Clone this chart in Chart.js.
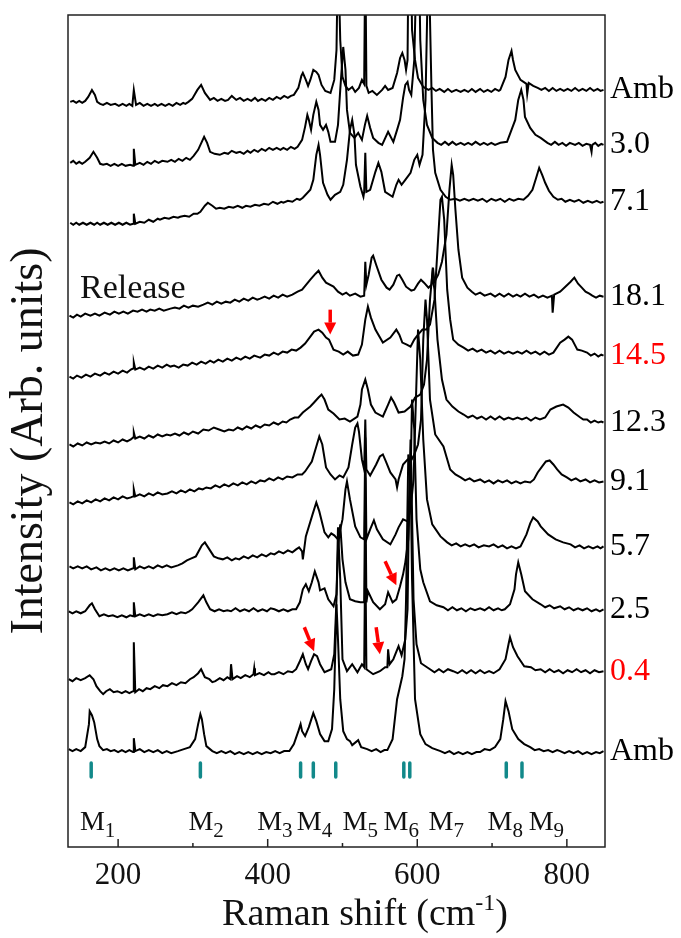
<!DOCTYPE html>
<html>
<head>
<meta charset="utf-8">
<script src="https://cdn.jsdelivr.net/npm/chart.js@4.4.1/dist/chart.umd.min.js"></script>
<style>
  html, body { margin: 0; padding: 0; background: #fff; }
  #wrap { width: 681px; height: 938px; }
</style>
</head>
<body>
<div id="wrap"><canvas id="myChart"></canvas></div>
<script>
// Raman spectra, top to bottom. Each point: [Raman shift (cm-1), stacked intensity (arb.)]
var sAmbRel = [[136,746],[140,747],[144,745],[148,747],[152,745],[156,747],[160,751],[165,758],[169,753],[172,746],[176,744],[180,743],[185,745],[190,743],[196,744],[201,742],[206,744],[211,742],[215,744],[219,742],[221,758],[224,743],[229,745],[234,742],[239,744],[244,742],[249,744],[253,742],[258,744],[263,742],[268,744],[273,742],[278,745],[283,743],[287,745],[290,744],[294,746],[299,749],[306,758],[311,763],[316,755],[323,748],[328,750],[333,747],[338,749],[343,747],[347,748],[352,752],[358,748],[363,750],[368,747],[373,749],[378,747],[383,750],[387,747],[392,749],[397,747],[402,750],[407,748],[412,751],[417,749],[422,752],[427,750],[431,752],[435,753],[441,760],[445,772],[447,775],[451,768],[454,762],[457,768],[461,778],[465,776],[468,773],[472,763],[477,757],[484,755],[489,768],[492,798],[494,900],[497,808],[500,771],[504,762],[508,758],[513,761],[517,756],[522,760],[526,768],[529,764],[530.5,900],[532,762],[535,755],[540,757],[546,753],[553,758],[557,762],[561,758],[567,760],[573,775],[577,790],[580,795],[583,788],[585,778],[587,788],[589.5,1000],[593,818],[597,788],[601,770],[608,761],[615,758],[620,760],[625,757],[630,759],[636,756],[641,759],[646,756],[652,758],[658,756],[663,758],[668,756],[673,759],[678,756],[684,759],[689,756],[694,758],[699,756],[704,759],[709,757],[711,758],[718,771],[722,788],[726,797],[728,788],[731,778],[738,768],[746,764],[747,754],[749,765],[755,762],[761,760],[766,758],[771,760],[776,757],[781,760],[786,757],[791,759],[796,757],[801,759],[806,757],[811,760],[816,757],[821,759],[826,757],[831,760],[836,757],[841,759],[845,757],[849,758]];
var s3_0 = [[136,685],[140,687],[144,684],[148,686],[152,684],[156,686],[162,690],[167,696],[172,690],[176,684],[180,683],[185,684],[190,682],[195,684],[200,682],[205,684],[210,682],[216,683],[220,682],[221,699],[223,683],[229,685],[234,683],[239,686],[244,684],[249,687],[254,685],[259,687],[266,686],[271,688],[276,686],[281,689],[286,687],[291,690],[296,688],[301,692],[307,698],[315,711],[319,705],[323,696],[329,694],[336,693],[342,695],[347,694],[352,697],[358,695],[363,696],[368,694],[373,697],[377,695],[382,698],[387,696],[392,699],[397,697],[402,700],[407,698],[412,700],[417,698],[421,700],[426,698],[431,701],[436,699],[440,701],[446,708],[450,721],[453,733],[455,728],[458,718],[461,733],[465,746],[468,738],[470,723],[474,718],[478,723],[481,716],[484,706],[490,706],[494,723],[497,758],[501,801],[504,778],[506,738],[510,715],[516,710],[521,715],[526,708],[530,723],[533,732],[537,720],[541,710],[548,705],[553,703],[561,716],[568,706],[573,718],[577,728],[581,750],[584,763],[587,766],[589,758],[592,753],[596,788],[601,950],[604,808],[608,748],[613,723],[620,710],[627,705],[632,703],[637,706],[642,703],[647,706],[652,703],[658,705],[663,703],[668,705],[673,703],[678,706],[684,703],[689,705],[694,703],[699,705],[704,703],[711,705],[720,706],[726,718],[731,728],[735,748],[739,758],[742,748],[744,731],[751,720],[758,713],[765,710],[774,705],[779,703],[784,706],[789,703],[794,705],[799,702],[804,705],[811,703],[816,705],[821,702],[826,704],[831,703],[833,696],[834,703],[838,705],[842,702],[846,704],[849,703]];
var s7_1 = [[136,625],[140,623],[144,625],[148,623],[153,625],[158,623],[163,625],[168,623],[172,625],[176,623],[181,625],[186,623],[191,625],[196,623],[201,625],[206,623],[211,625],[216,623],[220,624],[221,634],[223,624],[229,626],[235,625],[241,628],[247,626],[253,629],[256,628],[262,630],[268,629],[274,631],[280,630],[283,631],[289,632],[295,631],[301,634],[306,634],[310,636],[316,642],[320,645],[326,642],[331,639],[336,640],[342,639],[348,641],[354,640],[360,642],[366,640],[371,642],[377,641],[383,643],[389,642],[395,644],[401,643],[407,646],[413,644],[418,646],[421,645],[427,647],[433,646],[439,649],[443,648],[447,650],[457,658],[461,668],[465,693],[468,703],[470,693],[474,665],[480,653],[484,648],[490,653],[497,656],[501,663],[506,688],[510,718],[513,728],[516,713],[518,683],[524,661],[528,651],[529,656],[530.5,695],[532,656],[537,658],[544,676],[548,685],[552,676],[557,656],[567,651],[572,663],[575,668],[579,663],[584,668],[591,675],[596,688],[600,693],[603,683],[607,693],[611,748],[615,900],[619,758],[621,698],[624,675],[631,658],[638,651],[644,648],[651,649],[657,647],[663,649],[669,647],[675,649],[681,647],[687,649],[693,646],[699,649],[705,647],[711,649],[717,646],[723,649],[729,647],[735,649],[742,648],[748,652],[754,658],[759,670],[763,680],[767,673],[771,665],[776,657],[782,651],[788,648],[793,649],[798,646],[804,648],[810,646],[816,648],[822,645],[828,647],[834,645],[840,647],[845,645],[849,646]];
var s18_1 = [[135,532],[140,530],[145,533],[150,531],[156,534],[163,532],[169,534],[175,532],[182,535],[189,533],[195,536],[201,534],[207,536],[213,534],[220,537],[226,536],[232,538],[238,536],[243,538],[249,537],[255,539],[261,537],[270,539],[276,540],[282,539],[288,542],[294,540],[300,542],[307,541],[314,543],[320,545],[326,543],[332,546],[338,544],[344,546],[350,545],[356,548],[362,546],[368,549],[374,547],[380,550],[386,548],[390,549],[396,551],[402,549],[408,552],[414,550],[420,553],[426,551],[433,553],[440,556],[446,558],[457,568],[464,574],[468,577],[473,570],[478,565],[488,561],[494,556],[500,553],[505,555],[510,552],[517,554],[524,551],[529,552],[530.5,586],[532,563],[535,573],[539,590],[541,592],[545,583],[552,568],[559,560],[563,558],[568,563],[573,572],[576,573],[580,568],[585,561],[592,557],[596,558],[601,564],[605,568],[609,565],[615,560],[619,563],[621,580],[623,566],[628,573],[633,586],[639,613],[643,658],[646,683],[648,673],[651,638],[655,598],[660,570],[667,560],[673,556],[678,553],[684,555],[690,552],[698,554],[704,551],[710,554],[716,551],[722,554],[728,551],[733,553],[738,551],[744,554],[750,551],[756,553],[762,550],[768,552],[774,550],[780,552],[781,535],[783,553],[791,556],[798,561],[805,566],[810,570],[815,564],[820,560],[825,556],[830,554],[834,552],[839,550],[844,552],[849,551]];
var s14_5 = [[135,471],[140,469],[145,472],[151,470],[157,473],[163,471],[169,474],[176,472],[182,475],[188,473],[194,476],[200,474],[206,477],[212,475],[217,478],[220,479],[221,485],[223,478],[229,480],[235,478],[241,481],[247,479],[253,482],[259,480],[265,483],[270,481],[275,482],[281,480],[287,483],[293,482],[299,485],[305,483],[311,486],[317,484],[323,487],[328,485],[334,488],[340,486],[346,489],[352,487],[358,490],[364,488],[370,491],[376,489],[382,492],[390,490],[396,493],[402,492],[408,495],[414,493],[420,496],[426,495],[432,498],[438,497],[444,500],[450,504],[457,511],[462,516],[468,518],[473,515],[478,510],[482,508],[488,498],[495,496],[501,493],[507,496],[514,492],[521,493],[526,503],[530.5,528],[534,541],[538,530],[544,518],[554,505],[564,510],[572,518],[576,513],[580,505],[586,503],[591,501],[596,508],[601,513],[607,518],[612,518],[617,523],[623,548],[627,598],[631,648],[633,651],[636,628],[640,558],[644,528],[648,508],[655,503],[662,500],[668,497],[674,499],[680,496],[686,498],[692,495],[698,497],[704,494],[710,497],[716,494],[722,496],[728,494],[734,496],[740,494],[746,497],[752,494],[758,496],[764,493],[770,496],[776,493],[782,495],[791,505],[797,508],[802,511],[807,508],[814,498],[820,497],[827,495],[832,492],[837,494],[842,491],[846,493],[849,492]];
var s12_3 = [[135,403],[140,401],[146,404],[152,402],[158,405],[164,403],[170,405],[176,404],[182,406],[188,404],[194,407],[200,405],[206,408],[212,406],[217,408],[220,410],[221,415],[223,409],[229,411],[235,409],[241,412],[247,410],[253,413],[259,411],[265,413],[270,412],[276,414],[282,412],[288,415],[294,413],[300,416],[307,414],[314,418],[321,417],[328,420],[335,418],[342,416],[348,418],[354,417],[360,420],[366,418],[372,421],[378,419],[384,422],[390,420],[396,423],[402,422],[408,425],[414,423],[420,426],[425,425],[430,428],[436,430],[441,430],[447,435],[457,441],[462,445],[468,450],[472,453],[476,448],[481,438],[488,434],[496,428],[503,429],[510,426],[520,431],[524,443],[526,458],[530.5,468],[534,458],[538,443],[544,435],[554,431],[561,443],[565,450],[569,445],[575,435],[583,436],[591,441],[597,450],[604,453],[609,463],[613,488],[617,548],[620,573],[623,558],[627,508],[633,468],[639,448],[647,441],[655,436],[662,433],[668,430],[674,432],[680,429],[686,431],[692,428],[698,431],[704,428],[710,431],[716,428],[722,430],[728,428],[734,430],[740,428],[746,430],[752,427],[758,430],[764,428],[771,430],[778,438],[786,441],[795,443],[802,440],[809,435],[818,430],[822,428],[827,428],[832,425],[837,427],[842,425],[846,426],[849,425]];
var s9_1 = [[135,345],[140,343],[146,346],[152,344],[158,347],[164,345],[170,348],[176,346],[182,349],[188,347],[194,350],[200,348],[206,351],[212,349],[217,350],[220,351],[221,358],[223,351],[229,353],[235,351],[241,354],[247,352],[253,355],[259,353],[266,354],[272,356],[278,354],[284,357],[290,355],[296,358],[302,356],[308,359],[313,358],[318,360],[324,359],[330,362],[336,360],[342,363],[348,361],[354,364],[360,362],[366,365],[372,363],[378,366],[384,364],[390,367],[396,366],[402,369],[408,367],[414,370],[420,368],[426,371],[433,370],[440,373],[446,373],[450,376],[459,386],[465,401],[469,411],[473,403],[478,380],[484,373],[490,368],[496,372],[501,370],[508,380],[513,403],[517,420],[520,424],[522,416],[526,388],[529,378],[530.5,428],[532,378],[537,372],[545,383],[550,391],[554,393],[558,386],[564,375],[571,368],[573,360],[575,368],[581,383],[587,388],[591,386],[596,393],[601,403],[605,428],[608,508],[611,548],[613,528],[617,448],[624,413],[635,401],[644,378],[651,373],[658,370],[664,367],[670,369],[676,366],[684,368],[690,365],[696,367],[702,364],[708,367],[714,365],[720,367],[726,364],[732,366],[738,364],[744,366],[751,365],[756,368],[761,375],[767,381],[772,386],[777,387],[782,383],[787,378],[793,373],[800,370],[806,367],[812,369],[818,366],[825,368],[831,365],[837,367],[843,365],[849,366]];
var s5_7 = [[135,281],[140,279],[146,281],[152,279],[158,281],[164,278],[171,280],[177,277],[183,279],[189,277],[195,279],[201,277],[207,279],[213,277],[220,279],[221,290],[223,278],[229,281],[235,279],[241,281],[247,279],[253,282],[259,280],[265,282],[271,280],[280,282],[286,284],[292,287],[298,289],[304,291],[312,302],[316,305],[322,298],[328,291],[334,289],[340,288],[346,290],[352,287],[357,289],[362,288],[368,291],[374,289],[380,292],[386,290],[392,293],[398,291],[404,294],[409,293],[415,296],[421,294],[427,297],[433,295],[438,298],[442,300],[446,296],[447,288],[451,311],[460,333],[465,345],[469,336],[476,315],[481,310],[485,314],[489,312],[494,308],[500,328],[504,358],[506,366],[510,348],[517,321],[524,310],[529,308],[530.5,410],[532,308],[537,318],[542,327],[546,318],[554,308],[564,303],[571,313],[575,320],[581,328],[587,326],[591,338],[595,368],[599,468],[601,518],[604,488],[608,408],[613,348],[620,323],[631,311],[640,305],[646,302],[652,304],[658,301],[664,303],[670,301],[676,303],[682,300],[689,302],[696,301],[702,303],[708,300],[714,302],[720,299],[726,301],[732,299],[738,301],[746,313],[751,324],[755,330],[761,326],[765,321],[775,313],[785,308],[795,305],[805,303],[811,300],[817,302],[823,299],[829,301],[835,299],[841,301],[845,299],[849,301]];
var s2_5 = [[134,236],[139,234],[144,236],[150,234],[156,236],[162,242],[165,244],[169,238],[175,231],[181,233],[187,231],[193,232],[199,230],[205,232],[211,230],[216,232],[220,231],[221,245],[223,231],[229,233],[235,231],[241,233],[247,231],[253,233],[259,232],[266,233],[272,235],[278,233],[284,235],[290,234],[295,236],[299,238],[307,245],[314,252],[318,245],[323,238],[329,236],[335,238],[341,236],[346,237],[351,236],[357,239],[363,236],[369,238],[375,236],[381,239],[387,236],[393,238],[399,236],[404,239],[409,238],[415,236],[421,238],[427,236],[433,238],[438,238],[443,245],[447,258],[451,263],[455,256],[459,265],[463,276],[468,265],[470,257],[476,259],[481,248],[488,241],[492,253],[494,298],[497,323],[500,288],[504,265],[510,248],[517,246],[524,245],[529,245],[530.5,370],[532,245],[534,256],[541,245],[550,238],[557,243],[561,255],[567,245],[572,248],[577,261],[581,273],[584,285],[588,308],[591,368],[593,448],[596,418],[599,328],[604,278],[608,265],[617,246],[626,242],[635,240],[641,237],[647,240],[653,237],[659,239],[665,236],[671,239],[677,237],[684,239],[690,237],[696,240],[702,237],[708,239],[713,237],[717,238],[724,243],[730,258],[732,273],[735,285],[739,273],[744,256],[754,248],[765,243],[771,240],[777,242],[783,239],[791,241],[797,238],[803,240],[809,237],[815,239],[821,237],[827,239],[833,236],[839,238],[844,236],[849,238]];
var s0_4 = [[134,168],[139,166],[144,169],[150,167],[156,169],[162,172],[167,168],[171,161],[176,156],[180,153],[184,156],[189,158],[194,155],[199,156],[205,154],[210,156],[215,154],[220,156],[221,205],[223,155],[228,158],[233,156],[238,159],[243,158],[249,161],[255,159],[260,162],[266,161],[272,164],[278,162],[284,165],[290,164],[296,168],[301,170],[307,174],[311,178],[316,170],[322,168],[326,165],[330,166],[336,169],[341,167],[346,170],[350,168],[351,183],[353,168],[359,171],[364,169],[370,172],[376,170],[381,173],[382,179],[383,172],[389,174],[395,172],[401,175],[405,173],[409,173],[415,175],[421,173],[427,176],[433,175],[438,178],[443,186],[447,193],[451,183],[454,178],[458,186],[462,193],[466,191],[470,183],[476,175],[485,178],[489,193],[492,248],[494,320],[497,268],[500,188],[506,176],[513,183],[520,175],[526,183],[529,180],[530.5,303],[532,178],[541,173],[550,176],[557,180],[560,180],[561,198],[563,183],[568,188],[575,201],[579,192],[584,208],[587,238],[589,348],[591,408],[592,378],[595,248],[599,203],[605,184],[617,178],[623,175],[629,178],[635,175],[641,178],[648,176],[654,174],[660,177],[666,174],[672,177],[678,174],[684,177],[690,174],[696,176],[702,174],[710,178],[718,188],[722,203],[724,210],[728,200],[734,191],[743,181],[752,180],[758,177],[765,178],[771,175],[777,178],[783,175],[789,177],[795,174],[801,177],[807,175],[813,178],[819,175],[825,177],[831,174],[837,177],[843,175],[849,176]];
var sAmb = [[134,98],[139,96],[144,98],[150,96],[156,100],[161,123],[162,136],[165,132],[168,125],[172,108],[175,101],[180,97],[185,98],[190,96],[195,97],[200,95],[205,97],[210,95],[215,97],[220,95],[221,109],[223,96],[229,98],[235,95],[241,97],[247,95],[253,97],[259,94],[265,96],[271,94],[280,96],[288,98],[296,100],[303,108],[307,123],[310,133],[312,128],[315,113],[318,101],[326,96],[332,94],[338,96],[344,94],[350,96],[356,93],[362,95],[368,93],[374,95],[380,93],[386,95],[392,93],[398,95],[404,94],[410,96],[416,94],[422,96],[429,96],[435,103],[441,116],[444,123],[446,116],[450,111],[455,120],[461,134],[465,126],[470,113],[476,106],[481,106],[486,118],[489,158],[492,243],[494,208],[497,148],[501,116],[506,108],[510,106],[513,102],[521,107],[525,100],[533,98],[539,96],[545,98],[551,95],[556,97],[560,97],[567,108],[573,148],[580,171],[583,188],[585,248],[588,393],[591,378],[593,268],[597,148],[604,113],[611,103],[620,99],[631,96],[637,94],[643,96],[649,93],[655,95],[661,93],[667,95],[673,93],[679,95],[684,95],[690,98],[697,97],[704,100],[711,108],[715,128],[718,146],[722,136],[727,118],[735,108],[743,103],[751,100],[757,97],[763,98],[769,96],[775,97],[781,95],[787,97],[791,96],[797,94],[803,96],[809,94],[815,96],[821,93],[827,95],[833,93],[839,95],[844,94],[849,96]];

var spectra = [sAmbRel, s3_0, s7_1, s18_1, s14_5, s12_3, s9_1, s5_7, s2_5, s0_4, sAmb];
var pressures = ['Amb', '3.0', '7.1', '18.1', '14.5', '12.3', '9.1', '5.7', '2.5', '0.4', 'Amb'];
var pressureColors = ['#000', '#000', '#000', '#000', '#ff0000', '#000', '#000', '#000', '#000', '#ff0000', '#000'];

// mode positions (cm-1) and their labels
var modePos = [164, 310, 444, 461, 491, 582, 590, 719, 740];
var modeNames = ['1', '2', '3', '4', '5', '6', '7', '8', '9'];
var modeLabelAt = [149, 294, 386, 439, 500, 555, 615, 694, 749];

var xTicks = [200, 300, 400, 500, 600, 700, 800];

// red arrows: [x1, y1, x2, y2] in data units
var arrows = [[483.6, 538, 483.6, 513], [557, 286, 572, 262], [449, 220, 462, 196], [545, 220, 550, 193]];

var serif = "'Liberation Serif', 'Times New Roman', serif";

function drawArrow(ctx, x1, y1, x2, y2) {
  var ang = Math.atan2(y2 - y1, x2 - x1), head = 12, hw = 6;
  var bx = x2 - head * Math.cos(ang), by = y2 - head * Math.sin(ang);
  ctx.beginPath(); ctx.moveTo(x1, y1); ctx.lineTo(bx, by); ctx.stroke();
  ctx.beginPath(); ctx.moveTo(x2, y2);
  ctx.lineTo(bx + hw * Math.sin(ang), by - hw * Math.cos(ang));
  ctx.lineTo(bx - hw * Math.sin(ang), by + hw * Math.cos(ang));
  ctx.closePath(); ctx.fill();
}

var extras = {
  id: 'extras',
  afterDraw: function(chart) {
    var ctx = chart.ctx, a = chart.chartArea, xs = chart.scales.x, ys = chart.scales.y;
    ctx.save();

    // frame + inward ticks
    ctx.strokeStyle = '#222';
    ctx.lineWidth = 1.5;
    ctx.strokeRect(a.left, a.top, a.right - a.left, a.bottom - a.top);
    xTicks.forEach(function(v) {
      var px = xs.getPixelForValue(v);
      var len = (v % 200 === 0) ? 8 : 4;
      ctx.beginPath(); ctx.moveTo(px, a.bottom); ctx.lineTo(px, a.bottom - len); ctx.stroke();
    });

    // pressure labels at right
    ctx.font = '32px ' + serif;
    ctx.textAlign = 'left';
    ctx.textBaseline = 'middle';
    spectra.forEach(function(s, i) {
      ctx.fillStyle = pressureColors[i];
      ctx.fillText(pressures[i], a.right + 5, ys.getPixelForValue(s[s.length - 1][1]));
    });

    // y axis title
    ctx.save();
    ctx.fillStyle = '#111';
    ctx.font = '46px ' + serif;
    ctx.textAlign = 'center';
    ctx.textBaseline = 'middle';
    ctx.translate(30, 441);
    ctx.rotate(-Math.PI / 2);
    ctx.fillText('Intensity (Arb. units)', 0, 0);
    ctx.restore();

    // Release
    ctx.fillStyle = '#111';
    ctx.font = '34px ' + serif;
    ctx.textBaseline = 'alphabetic';
    ctx.fillText('Release', xs.getPixelForValue(149), ys.getPixelForValue(550));

    // mode markers
    ctx.strokeStyle = '#12898a';
    ctx.lineWidth = 3.5;
    ctx.lineCap = 'round';
    modePos.forEach(function(v) {
      var px = xs.getPixelForValue(v);
      ctx.beginPath(); ctx.moveTo(px, ys.getPixelForValue(84)); ctx.lineTo(px, ys.getPixelForValue(70)); ctx.stroke();
    });
    ctx.lineCap = 'butt';

    // mode labels M1..M9
    ctx.fillStyle = '#111';
    modeNames.forEach(function(n, i) {
      var px = xs.getPixelForValue(modeLabelAt[i]);
      var py = ys.getPixelForValue(17);
      ctx.font = '28px ' + serif;
      ctx.fillText('M', px, py);
      var w = ctx.measureText('M').width;
      ctx.font = '21px ' + serif;
      ctx.fillText(n, px + w, py + 7);
    });

    // red arrows
    ctx.strokeStyle = '#ff0000';
    ctx.fillStyle = '#ff0000';
    ctx.lineWidth = 3.5;
    arrows.forEach(function(r) {
      drawArrow(ctx, xs.getPixelForValue(r[0]), ys.getPixelForValue(r[1]), xs.getPixelForValue(r[2]), ys.getPixelForValue(r[3]));
    });

    // x axis title with superscript
    ctx.fillStyle = '#111';
    ctx.font = '38px ' + serif;
    var t1 = 'Raman shift (cm', t3 = ')';
    var w1 = ctx.measureText(t1).width, w3 = ctx.measureText(t3).width;
    ctx.font = '24px ' + serif;
    var w2 = ctx.measureText('-1').width;
    var x0 = 365 - (w1 + w2 + w3) / 2, yb = 925;
    ctx.font = '38px ' + serif;
    ctx.fillText(t1, x0, yb);
    ctx.font = '24px ' + serif;
    ctx.fillText('-1', x0 + w1, yb - 15);
    ctx.font = '38px ' + serif;
    ctx.fillText(t3, x0 + w1 + w2, yb);

    ctx.restore();
  }
};

var datasets = spectra.map(function(s, i) {
  return {
    label: pressures[i],
    data: s,
    borderColor: '#000',
    borderWidth: 2,
    pointRadius: 0,
    fill: false,
    tension: 0
  };
});

var ctx = document.getElementById('myChart');
var chart = new Chart(ctx, {
  type: 'line',
  data: { datasets: datasets },
  options: {
    responsive: true,
    maintainAspectRatio: false,
    animation: false,
    layout: { padding: { top: 15, right: 76, left: 0, bottom: 0 } },
    plugins: { legend: { display: false }, tooltip: { enabled: false } },
    scales: {
      x: {
        type: 'linear',
        min: 133,
        max: 851,
        grid: { display: false, drawTicks: false },
        border: { display: false },
        afterBuildTicks: function(scale) {
          scale.ticks = xTicks.map(function(v) { return { value: v }; });
        },
        afterFit: function(scale) { scale.height = 91; },
        ticks: {
          color: '#111',
          padding: 10,
          maxRotation: 0,
          font: { family: serif, size: 31 },
          callback: function(v) { return v % 200 === 0 ? String(v) : ''; }
        }
      },
      y: {
        min: 0,
        max: 833,
        grid: { display: false, drawTicks: false },
        border: { display: false },
        ticks: { display: false },
        afterFit: function(scale) { scale.width = 68; }
      }
    }
  },
  plugins: [extras]
});
</script>
</body>
</html>
